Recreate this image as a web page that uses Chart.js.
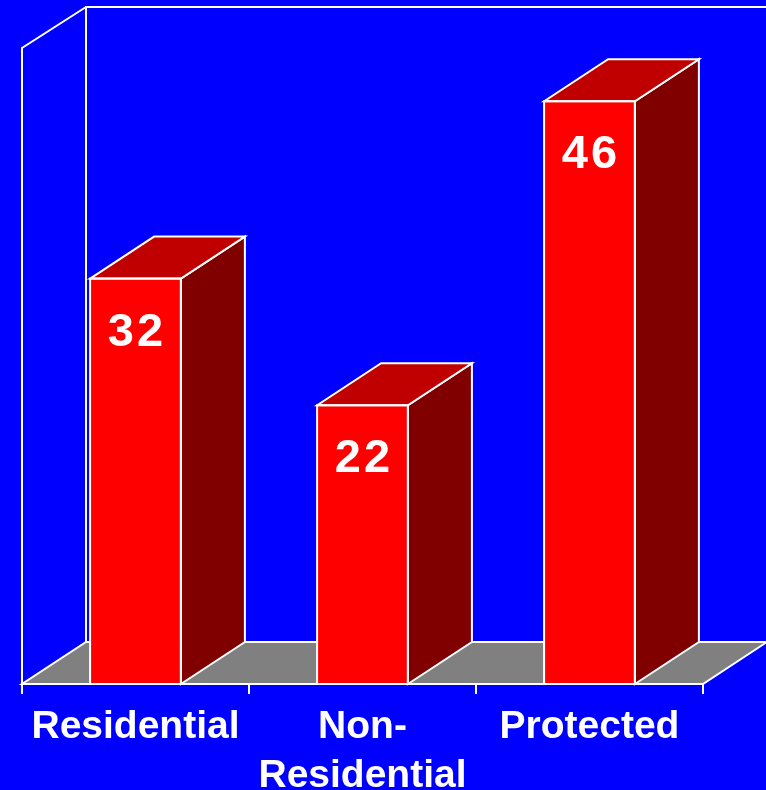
<!DOCTYPE html>
<html>
<head>
<meta charset="utf-8">
<title>Bar chart</title>
<script src="https://cdn.jsdelivr.net/npm/chart.js@4/dist/chart.umd.min.js"></script>
<style>
  body { margin: 0; background: #0000ff; }
  canvas { display: block; }
</style>
</head>
<body>
<canvas id="myChart" width="766" height="790"></canvas>
<script>
'use strict';

let categories = ['Residential', ['Non-', 'Residential'], 'Protected'];
let values = [32, 22, 46];
let valueLabels = ['32', '22', '46'];
let axisMax = 50.2;

// depth of the fake 3d box
let depthX = 64;
let depthY = -42;

function poly(ctx, pts, fill) {
  ctx.beginPath();
  ctx.moveTo(pts[0][0], pts[0][1]);
  for (let i = 1; i < pts.length; i++) {
    ctx.lineTo(pts[i][0], pts[i][1]);
  }
  ctx.closePath();
  if (fill) {
    ctx.fillStyle = fill;
    ctx.fill();
  }
  ctx.stroke();
}

let box3d = {
  id: 'box3d',
  beforeDraw(chart) {
    let ctx = chart.ctx;
    ctx.save();
    ctx.fillStyle = '#0000ff';
    ctx.fillRect(0, 0, chart.width, chart.height);
    ctx.restore();
  },
  beforeDatasetsDraw(chart) {
    let ctx = chart.ctx;
    let a = chart.chartArea;
    ctx.save();
    ctx.strokeStyle = '#ffffff';
    ctx.lineWidth = 2;
    // floor
    poly(ctx, [[a.left, a.bottom], [a.right, a.bottom], [a.right + depthX, a.bottom + depthY], [a.left + depthX, a.bottom + depthY]], '#808080');
    // back wall and left wall
    ctx.beginPath();
    ctx.moveTo(a.left + depthX, a.bottom + depthY);
    ctx.lineTo(a.left + depthX, a.top + depthY + 1);
    ctx.lineTo(a.right + depthX + 10, a.top + depthY + 1);
    ctx.moveTo(a.left, a.bottom);
    ctx.lineTo(a.left, a.top);
    ctx.lineTo(a.left + depthX, a.top + depthY + 1);
    ctx.stroke();
    // tick marks
    let x = chart.scales.x;
    let step = (a.right - a.left) / categories.length;
    ctx.beginPath();
    for (let i = 0; i <= categories.length; i++) {
      let px = Math.round(x.left + step * i);
      ctx.moveTo(px, a.bottom);
      ctx.lineTo(px, a.bottom + 10);
    }
    ctx.stroke();
    ctx.restore();
  },
  afterDatasetsDraw(chart) {
    let ctx = chart.ctx;
    let bars = chart.getDatasetMeta(0).data;
    ctx.save();
    ctx.strokeStyle = '#ffffff';
    ctx.lineWidth = 2;
    ctx.lineJoin = 'miter';
    for (let i = 0; i < bars.length; i++) {
      let b = bars[i];
      let left = b.x - b.width / 2;
      let right = b.x + b.width / 2;
      poly(ctx, [[right, b.y], [right + depthX, b.y + depthY], [right + depthX, b.base + depthY], [right, b.base]], '#800000');
      poly(ctx, [[left, b.y], [left + depthX, b.y + depthY], [right + depthX, b.y + depthY], [right, b.y]], '#c00000');
      ctx.strokeRect(left, b.y, b.width, b.base - b.y);
    }
    ctx.fillStyle = '#ffffff';
    ctx.font = 'bold 47px "Liberation Sans", Arial, sans-serif';
    ctx.letterSpacing = '3px';
    ctx.textAlign = 'center';
    ctx.textBaseline = 'alphabetic';
    for (let i = 0; i < bars.length; i++) {
      ctx.fillText(valueLabels[i], bars[i].x + 1.5, bars[i].y + 67);
    }
    ctx.restore();
  }
};

let ctx = document.getElementById('myChart');
let myChart = new Chart(ctx, {
  type: 'bar',
  data: {
    labels: categories,
    datasets: [{
      data: values,
      backgroundColor: '#ff0000',
      borderWidth: 0,
      barPercentage: 0.4,
      categoryPercentage: 1
    }]
  },
  options: {
    responsive: false,
    animation: false,
    layout: {
      padding: { left: 22, right: 63, top: 48, bottom: 0 }
    },
    plugins: {
      legend: { display: false },
      tooltip: { enabled: false }
    },
    scales: {
      y: {
        display: false,
        min: 0,
        max: axisMax
      },
      x: {
        grid: { display: false, drawTicks: false },
        border: { display: false },
        afterFit(scale) {
          scale.height = 106;
        },
        ticks: {
          color: '#ffffff',
          padding: 19,
          maxRotation: 0,
          autoSkip: false,
          font: {
            family: '"Liberation Sans", Arial, sans-serif',
            weight: 'bold',
            size: 39,
            lineHeight: 1.26
          }
        }
      }
    }
  },
  plugins: [box3d]
});
</script>
</body>
</html>
